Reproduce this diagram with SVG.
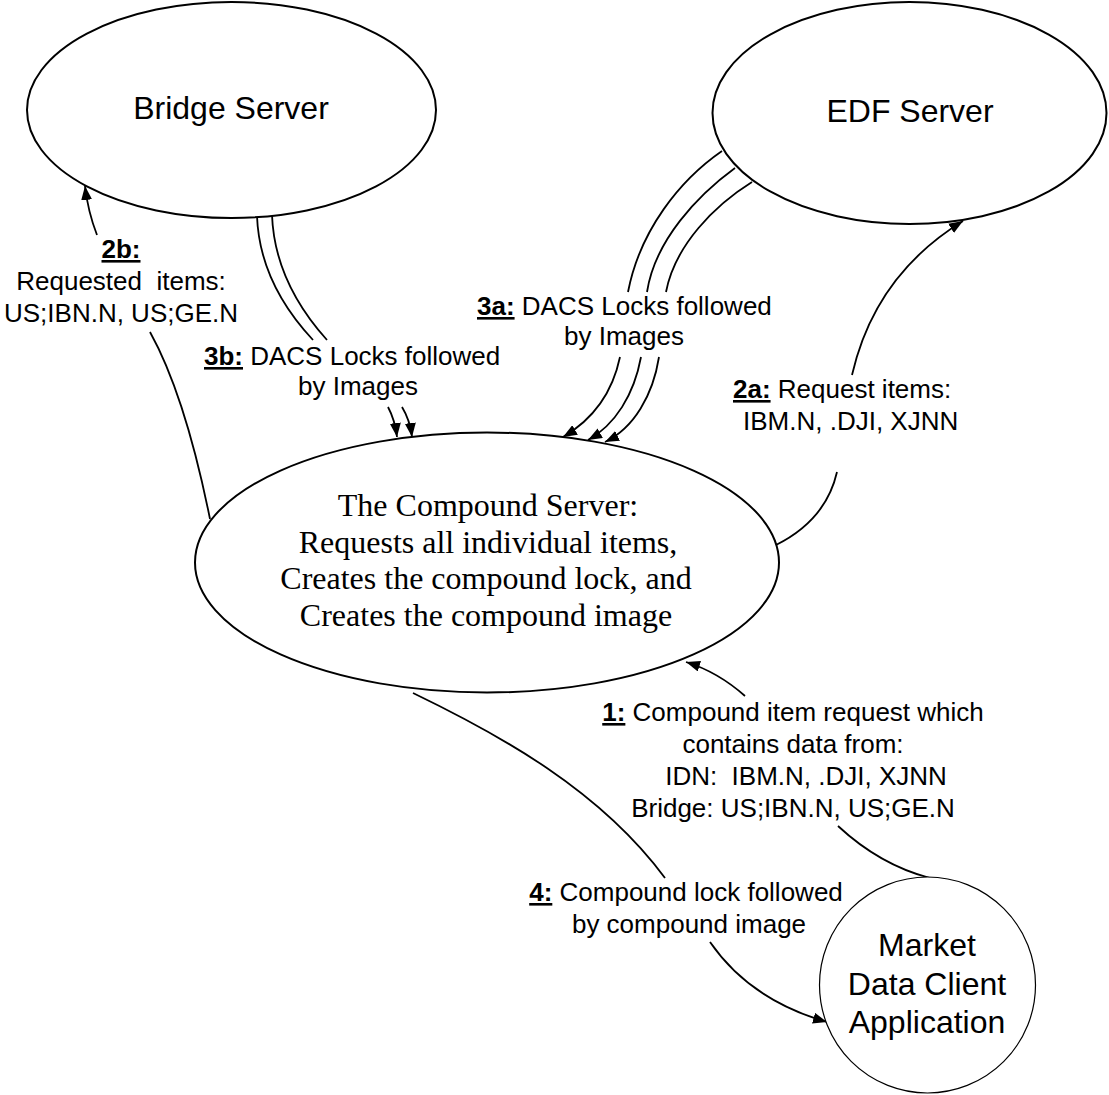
<svg xmlns="http://www.w3.org/2000/svg" width="1109" height="1095" viewBox="0 0 1109 1095">
<style>
.node{fill:#fff;stroke:#000;stroke-width:2}
.thin{stroke-width:1.2}
.c{fill:none;stroke:#000;stroke-width:1.8}
.a{marker-end:url(#ah)}
.t{font-family:"Liberation Sans",Arial,sans-serif;fill:#000}
.big{font-size:32px;text-anchor:middle}
.lbl{font-size:26px;white-space:pre}
.mid{text-anchor:middle}
.tm{font-family:"Liberation Serif","Times New Roman",serif;font-size:32px;text-anchor:middle;fill:#000}
.n{font-weight:bold;text-decoration:underline}
</style>
<defs>
<marker id="ah" markerUnits="userSpaceOnUse" markerWidth="15" markerHeight="11" refX="14" refY="5.5" orient="auto">
<path d="M0,0 L14,5.5 L0,11 z" fill="#000"/>
</marker>
</defs>
<rect width="1109" height="1095" fill="#fff"/>
<g id="connectors">
<!-- 2b -->
<path class="c" d="M210,519 Q185,395 150,332"/>
<path class="c a" d="M97,235 Q88,212 85,186"/>
<!-- 3b -->
<path class="c" d="M257,216 C259,270 285,310 313,340"/>
<path class="c" d="M272,215 C274,268 300,310 327,340"/>
<path class="c a" d="M388,407 Q395,420 397,437"/>
<path class="c a" d="M402,407 Q410,420 412,437"/>
<!-- 3a -->
<path class="c" d="M722,151 C680,180 640,230 628,292"/>
<path class="c" d="M735,168 C698,195 655,240 647,292"/>
<path class="c" d="M752,182 C715,205 675,245 666,292"/>
<path class="c a" d="M620,357 C612,395 592,420 563,437"/>
<path class="c a" d="M641,357 C634,395 615,425 588,440"/>
<path class="c a" d="M659,357 C653,395 634,428 605,442"/>
<!-- 2a -->
<path class="c" d="M837,472 Q826,520 776,545"/>
<path class="c a" d="M852,375 Q875,275 963,221"/>
<!-- 1 -->
<path class="c" d="M838,826 Q880,865 930,878"/>
<path class="c a" d="M745,696 Q718,672 686,662"/>
<!-- 4 -->
<path class="c" d="M413,693 C500,735 600,790 665,878"/>
<path class="c a" d="M710,942 Q750,1000 827,1022"/>
</g>
<g id="bridge">
<ellipse class="node" cx="231.5" cy="110" rx="204.5" ry="108"/>
<text class="t big" x="231" y="119">Bridge Server</text>
</g>
<g id="edf">
<ellipse class="node" cx="909.5" cy="113" rx="197" ry="111"/>
<text class="t big" x="910" y="122">EDF Server</text>
</g>
<g id="compound">
<ellipse class="node" cx="487" cy="562.5" rx="292" ry="130"/>
<text class="tm" x="488" y="516">The Compound Server:</text>
<text class="tm" x="488" y="552.5">Requests all individual items,</text>
<text class="tm" x="486" y="589">Creates the compound lock, and</text>
<text class="tm" x="486" y="625.5">Creates the compound image</text>
</g>
<g id="client">
<circle class="node thin" cx="927.5" cy="985" r="108"/>
<text class="t big" x="927" y="956">Market</text>
<text class="t big" x="927" y="995">Data Client</text>
<text class="t big" x="927" y="1033">Application</text>
</g>
<g id="labels">
<text class="t lbl mid" x="121" y="258"><tspan class="n">2b:</tspan></text>
<text class="t lbl mid" x="121" y="290">Requested  items:</text>
<text class="t lbl mid" x="121" y="322">US;IBN.N, US;GE.N</text>

<text class="t lbl" x="204" y="365"><tspan class="n">3b:</tspan> DACS Locks followed</text>
<text class="t lbl mid" x="358" y="395">by Images</text>

<text class="t lbl" x="477" y="315"><tspan class="n">3a:</tspan> DACS Locks followed</text>
<text class="t lbl mid" x="624" y="345">by Images</text>

<text class="t lbl" x="733" y="398"><tspan class="n">2a:</tspan> Request items:</text>
<text class="t lbl" x="743" y="430">IBM.N, .DJI, XJNN</text>

<text class="t lbl mid" x="793" y="721"><tspan class="n">1:</tspan> Compound item request which</text>
<text class="t lbl mid" x="793" y="753">contains data from:</text>
<text class="t lbl mid" x="806" y="785">IDN:  IBM.N, .DJI, XJNN</text>
<text class="t lbl mid" x="793" y="817">Bridge: US;IBN.N, US;GE.N</text>

<text class="t lbl mid" x="686" y="901"><tspan class="n">4:</tspan> Compound lock followed</text>
<text class="t lbl mid" x="689" y="933">by compound image</text>
</g>
</svg>
